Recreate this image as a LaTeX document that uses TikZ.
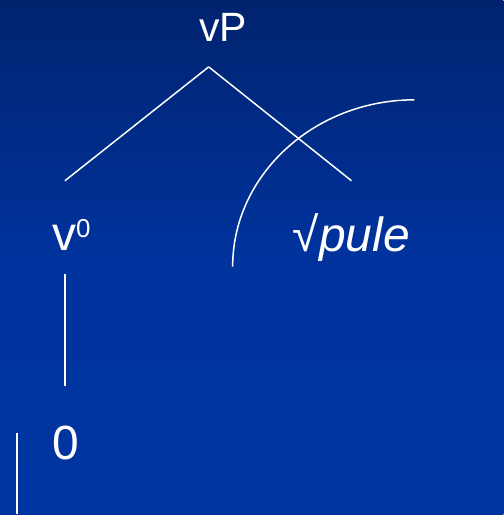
\documentclass[tikz,border=0pt]{standalone}
\usepackage{fontspec}
\setmainfont{Liberation Sans}
\usepackage{xcolor}
\usepackage{tikz}
\usetikzlibrary{positioning}
\definecolor{slidetop}{HTML}{00236E}
\definecolor{slidebottom}{HTML}{0034A0}
\pgfdeclarelayer{bglayer}
\pgfdeclarelayer{nodelayer}
\pgfdeclarelayer{edgelayer}
\pgfsetlayers{bglayer,nodelayer,edgelayer,main}
\tikzset{
    none/.style = {inner sep=0pt},
    label/.style = {inner sep=0pt, text=white, anchor=base},
    branch/.style = {draw=white, line width=1.5pt}
}

\begin{document}
\begin{tikzpicture}[x=1pt, y=1pt]
    \begin{pgfonlayer}{bglayer}
        \shade [top color=slidetop, bottom color=slidebottom, middle color=slidebottom!95!slidetop]
            (0, 0) rectangle (504, 515);
        \useasboundingbox (0, 0) rectangle (504, 515);
    \end{pgfonlayer}
    \begin{pgfonlayer}{nodelayer}
        \node [style=label, font=\fontsize{41}{41}\selectfont] (vp) at (223.5, 473) {vP};
        \node [style=label, anchor=base west, font=\fontsize{48}{48}\selectfont] (v0) at (52, 264)
            {v\raisebox{13pt}{\fontsize{26}{26}\selectfont 0}};
        \node [style=label, anchor=base west, font=\fontsize{48}{48}\selectfont] (root) at (293, 263)
            {√\textit{pule}};
        \node [style=label, font=\fontsize{48}{48}\selectfont] (zero) at (65.5, 55) {0};
        \node [style=none] (0) at (209, 448) {};
        \node [style=none] (1) at (65, 334) {};
        \node [style=none] (2) at (352, 334) {};
        \node [style=none] (3) at (65, 241) {};
        \node [style=none] (4) at (65, 128) {};
        \node [style=none] (5) at (17, 81) {};
        \node [style=none] (6) at (17, 0) {};
        \node [style=none] (7) at (233, 248) {};
        \node [style=none] (8) at (415, 415) {};
    \end{pgfonlayer}
    \begin{pgfonlayer}{edgelayer}
        \draw [style=branch] (1.center) to (0.center);
        \draw [style=branch] (0.center) to (2.center);
        \draw [style=branch] (3.center) to (4.center);
        \draw [style=branch] (5.center) to (6.center);
        \draw [style=branch] (7.center) .. controls +(0, 92) and +(-100, 0) .. (8.center);
    \end{pgfonlayer}
\end{tikzpicture}
\end{document}
